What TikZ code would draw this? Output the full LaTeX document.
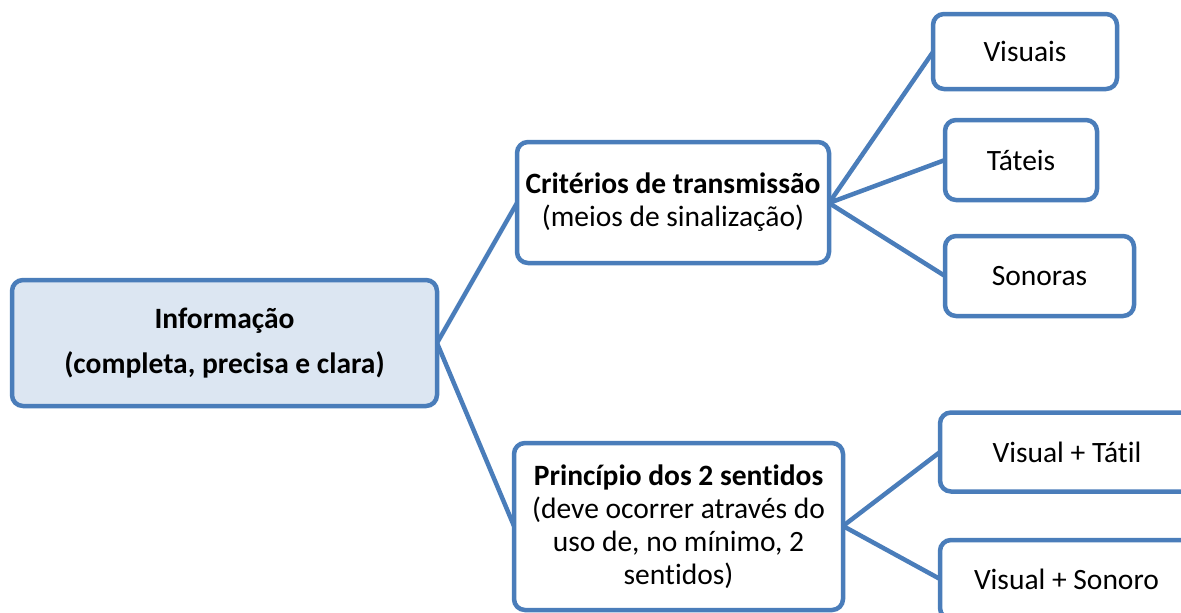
\documentclass[tikz,border=0pt]{standalone}
\usepackage{fontspec}
\setmainfont[Ligatures=NoCommon]{Carlito}
\definecolor{bordc}{HTML}{4A7DBA}
\definecolor{infofill}{HTML}{DCE6F2}
\begin{document}
\begin{tikzpicture}[x=1pt,y=-1pt,
  box/.style={draw=bordc, line width=4.5pt, rounded corners=11pt, fill=white,
    rectangle, inner sep=0pt, outer sep=0pt, align=center,
    font=\fontsize{29.5}{33}\selectfont},
  link/.style={draw=bordc, line width=4.5pt}]
\useasboundingbox (0,0) rectangle (1181,613);
% connectors first
\coordinate (infoE) at (437,343);
\coordinate (critW) at (517,203);
\coordinate (princW) at (514,526);
\coordinate (critE) at (829,203);
\coordinate (princE) at (843,526);
\coordinate (visW) at (933,52);
\coordinate (tatW) at (945,160);
\coordinate (sonW) at (945,276);
\coordinate (vtW) at (940,452);
\coordinate (vsW) at (940,579);
\draw[link] (critW) -- (infoE) -- (princW);
\draw[link] (visW) -- (critE) -- (tatW);
\draw[link] (critE) -- (sonW);
\draw[link] (vtW) -- (princE) -- (vsW);
% nodes
\node[box, fill=infofill, minimum width=425pt, minimum height=126pt] (info) at (224.5,343)
  {\textbf{Informação}\\[12pt]\textbf{(completa, precisa e clara)}};
\node[box, minimum width=312pt, minimum height=121pt] (crit) at (673,202.5)
  {\textbf{Critérios de transmissão}\\(meios de sinalização)};
\node[box, minimum width=329pt, minimum height=167pt] (princ) at (678.5,526.5)
  {\textbf{Princípio dos 2 sentidos}\\(deve ocorrer através do\\uso de, no mínimo, 2\\sentidos)};
\node[box, minimum width=184pt, minimum height=75pt] (vis) at (1025,51.5) {Visuais};
\node[box, minimum width=152pt, minimum height=80pt] (tat) at (1021,160) {Táteis};
\node[box, minimum width=189pt, minimum height=80pt] (son) at (1039.5,276) {Sonoras};
\node[box, minimum width=254pt, minimum height=79pt] (vt) at (1067,452) {Visual + Tátil};
\node[box, minimum width=253pt, minimum height=79pt] (vs) at (1066.5,579.5) {Visual + Sonoro};
\end{tikzpicture}
\end{document}
